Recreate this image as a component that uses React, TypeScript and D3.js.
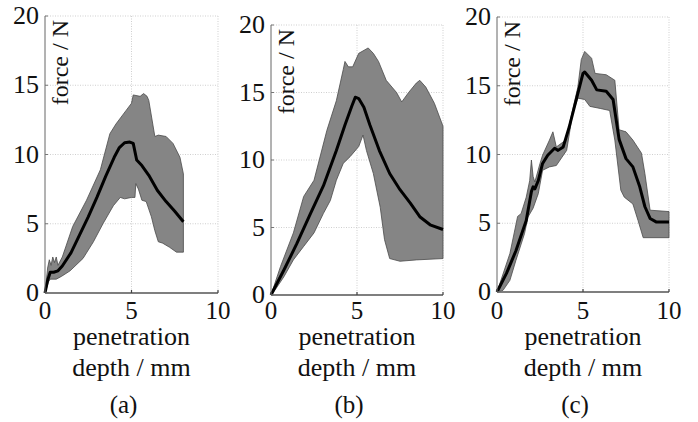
import React from "react";
import * as d3 from "d3";

type Pt = [number, number];

// x ticks / y ticks shared by all three panels
const xTicks = [0, 5, 10];
const yTicks = [0, 5, 10, 15, 20];
const panelLabels = ["(a)", "(b)", "(c)"];

// panel (a)
const meanA: Pt[] = [
  [0, 0], [0.15, 0.9], [0.3, 1.5], [0.5, 1.5], [0.75, 1.6], [1, 1.95], [1.5, 2.9],
  [2, 4.2], [2.5, 5.5], [3, 6.9], [3.5, 8.4], [4, 9.8], [4.3, 10.5], [4.6, 10.85],
  [4.9, 10.9], [5.1, 10.8], [5.3, 9.6], [5.6, 9.2], [6, 8.5], [6.5, 7.4], [7, 6.6],
  [7.5, 5.9], [8, 5.15]
];
const upperA: Pt[] = [
  [0, 0], [0.15, 1.8], [0.25, 2.4], [0.35, 2.0], [0.45, 2.6], [0.55, 2.2], [0.65, 2.6],
  [0.75, 2.0], [1, 2.6], [1.6, 4.8], [2.4, 6.7], [3.2, 8.9], [3.75, 11.5], [4.1, 12.2],
  [4.7, 13.2], [5.0, 13.7], [5.1, 14.3], [5.5, 14.2], [5.7, 14.4], [5.9, 14.2],
  [6.0, 13.9], [6.35, 11.3], [6.55, 11.4], [7.0, 11.3], [7.4, 10.8], [7.8, 9.8], [8, 8.6]
];
const lowerA: Pt[] = [
  [0, 0], [0.2, 0.8], [0.3, 1.0], [0.65, 1.0], [0.95, 1.2], [1.45, 1.6], [2.2, 2.5],
  [2.8, 3.7], [3.35, 5.0], [3.95, 6.3], [4.35, 6.9], [4.6, 6.8], [5.0, 6.9], [5.2, 6.9],
  [5.25, 7.9], [5.4, 7.5], [5.6, 6.7], [5.85, 6.6], [6.15, 5.5], [6.35, 4.5], [6.55, 3.7],
  [6.8, 3.6], [7.2, 3.3], [7.6, 2.95], [8, 2.95]
];

// panel (b)
const meanB: Pt[] = [
  [0, 0], [0.75, 1.85], [1.5, 3.8], [2.3, 6.05], [3.05, 8.1], [3.8, 10.7], [4.3, 12.6],
  [4.7, 14.0], [4.9, 14.65], [5.1, 14.55], [5.4, 13.9], [5.75, 12.6], [6.3, 10.7],
  [6.9, 9.0], [7.5, 7.8], [8.1, 6.8], [8.65, 5.8], [9.25, 5.2], [10, 4.85]
];
const upperB: Pt[] = [
  [0, 0], [0.55, 2.1], [1.3, 4.6], [1.9, 7.3], [2.5, 8.5], [3.25, 12.2], [3.8, 14.4],
  [4.2, 16.7], [4.3, 17.3], [4.5, 16.9], [4.75, 16.9], [5.1, 17.9], [5.65, 18.3],
  [5.95, 17.9], [6.25, 17.3], [6.7, 15.9], [7.3, 15.0], [7.6, 14.3], [8.0, 15.0],
  [8.45, 15.7], [8.65, 15.9], [9.0, 15.4], [9.5, 14.2], [10, 12.5]
];
const lowerB: Pt[] = [
  [0, 0], [0.25, 0.4], [0.75, 1.35], [1.3, 2.6], [1.9, 3.6], [2.5, 4.6], [3.05, 6.05],
  [3.45, 7.0], [3.8, 8.5], [4.2, 9.75], [4.6, 10.25], [5.1, 11.0], [5.35, 11.85],
  [5.55, 10.7], [5.95, 9.0], [6.35, 6.5], [6.6, 4.1], [6.9, 2.7], [7.5, 2.5],
  [8.45, 2.6], [10, 2.7]
];

// panel (c)
const meanC: Pt[] = [
  [0, 0], [0.55, 1.35], [1.1, 3.0], [1.7, 5.2], [2.0, 7.3], [2.1, 7.65], [2.2, 7.5],
  [2.4, 8.1], [2.65, 9.35], [2.95, 9.95], [3.35, 10.45], [3.55, 10.3], [3.85, 10.55],
  [4.2, 12.0], [4.7, 14.45], [5.0, 15.9], [5.1, 16.0], [5.5, 15.4], [5.8, 14.7],
  [6.35, 14.6], [6.75, 14.0], [7.1, 11.1], [7.5, 9.7], [7.9, 9.1], [8.3, 7.65],
  [8.6, 6.2], [8.9, 5.35], [9.25, 5.1], [10, 5.1]
];
const upperC: Pt[] = [
  [0, 0], [0.75, 2.8], [1.2, 5.5], [1.4, 5.7], [1.7, 6.9], [1.9, 8.1], [2.0, 9.6],
  [2.1, 8.4], [2.2, 8.0], [2.5, 9.35], [2.65, 9.95], [3.05, 11.05], [3.25, 11.65],
  [3.45, 10.55], [4.0, 11.05], [4.4, 13.25], [4.7, 14.9], [4.9, 16.9], [5.1, 17.5],
  [5.5, 17.0], [5.7, 15.9], [6.35, 15.8], [6.85, 15.4], [7.1, 11.8], [7.5, 11.65],
  [7.9, 11.05], [8.4, 10.1], [8.6, 8.6], [8.9, 5.95], [10, 5.85]
];
const lowerC: Pt[] = [
  [0, 0], [0.35, 0.12], [0.75, 0.85], [1.1, 2.3], [1.6, 4.25], [1.8, 5.45], [2.1, 6.1],
  [2.4, 7.15], [2.65, 8.85], [3.05, 9.1], [3.45, 9.2], [4.05, 10.3], [4.4, 13.0],
  [4.7, 14.1], [5.1, 14.0], [5.4, 13.5], [6.0, 13.35], [6.55, 13.2], [6.85, 11.05],
  [7.2, 7.4], [7.4, 6.9], [7.9, 6.4], [8.2, 5.2], [8.5, 3.95], [10, 3.95]
];

const panels = [
  { mean: meanA, upper: upperA, lower: lowerA, left: 45, right: 218, top: 16, bottom: 293 },
  { mean: meanB, upper: upperB, lower: lowerB, left: 271, right: 443, top: 25, bottom: 295 },
  { mean: meanC, upper: upperC, lower: lowerC, left: 497, right: 669, top: 17, bottom: 292 }
];

const font = "Liberation Serif";

function Panel({ p, label }: { p: typeof panels[number]; label: string }) {
  const x = d3.scaleLinear().domain([0, 10]).range([p.left, p.right]);
  const y = d3.scaleLinear().domain([0, 20]).range([p.bottom, p.top]);
  const line = d3
    .line<Pt>()
    .x(d => x(d[0]))
    .y(d => y(d[1]));
  const band = line(p.upper.concat(p.lower.slice().reverse())) + "Z";
  const cx = (p.left + p.right) / 2;

  return (
    <g>
      {/* grid + top/right box, dotted */}
      {yTicks.slice(1).map(t => (
        <line key={"gy" + t} x1={p.left} x2={p.right} y1={y(t)} y2={y(t)}
          stroke="#cfcfcf" strokeWidth={1} strokeDasharray="1,1.5" />
      ))}
      {xTicks.slice(1).map(t => (
        <line key={"gx" + t} x1={x(t)} x2={x(t)} y1={p.top} y2={p.bottom}
          stroke="#cfcfcf" strokeWidth={1} strokeDasharray="1,1.5" />
      ))}
      <path d={band} fill="#858585" stroke="#4a4a4a" strokeWidth={0.8} />
      <path d={line(p.mean) || ""} fill="none" stroke="#000" strokeWidth={3} strokeLinejoin="round" />
      {/* axes */}
      <line x1={p.left} x2={p.left} y1={p.top} y2={p.bottom} stroke="#666" strokeWidth={1} />
      <line x1={p.left} x2={p.right} y1={p.bottom} y2={p.bottom} stroke="#555" strokeWidth={1.3} />
      {yTicks.map(t => (
        <line key={"ky" + t} x1={p.left} x2={p.left + 3} y1={y(t)} y2={y(t)} stroke="#777" strokeWidth={1} />
      ))}
      {xTicks.map(t => (
        <line key={"kx" + t} x1={x(t)} x2={x(t)} y1={p.bottom} y2={p.bottom - 3} stroke="#444" strokeWidth={1.2} />
      ))}
      {yTicks.map(t => (
        <text key={"ty" + t} x={p.left - 6} y={y(t) + 8} textAnchor="end"
          fontFamily={font} fontSize={26} fill="#111">{t}</text>
      ))}
      {xTicks.map(t => (
        <text key={"tx" + t} x={x(t)} y={319} textAnchor="middle"
          fontFamily={font} fontSize={25} fill="#111">{t}</text>
      ))}
      <text transform={`translate(${p.left + 23},${p.top + 4}) rotate(-90)`} textAnchor="end"
        fontFamily={font} fontSize={24} fill="#111">force / N</text>
      <text x={cx} y={345} textAnchor="middle" fontFamily={font} fontSize={26} fill="#111">penetration</text>
      <text x={cx} y={376} textAnchor="middle" fontFamily={font} fontSize={26} fill="#111">depth / mm</text>
      <text x={cx - 8} y={413} textAnchor="middle" fontFamily={font} fontSize={25} fill="#111">{label}</text>
    </g>
  );
}

export default function App() {
  return (
    <svg width={698} height={422} style={{ position: "absolute", left: 0, top: 0, background: "#fff" }}>
      {panels.map((p, i) => (
        <Panel key={i} p={p} label={panelLabels[i]} />
      ))}
    </svg>
  );
}
